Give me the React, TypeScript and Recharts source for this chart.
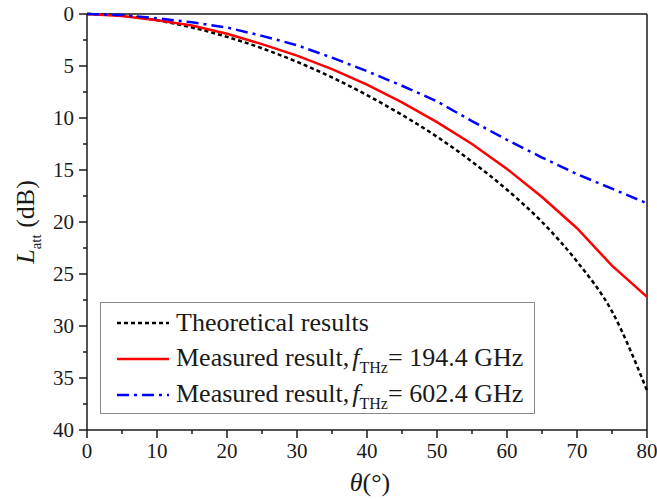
import { LineChart, Line, XAxis, YAxis, ReferenceLine } from 'recharts'

const angles = [0, 5, 10, 15, 20, 25, 30, 35, 40, 45, 50, 55, 60, 65, 70, 75, 80]
const theoretical = [0, 0.15, 0.6, 1.3, 2.2, 3.3, 4.6, 6.1, 7.8, 9.7, 11.8, 14.2, 16.9, 20.0, 23.8, 28.6, 36.2]
const measured194 = [0, 0.2, 0.6, 1.1, 1.9, 2.9, 4.0, 5.3, 6.8, 8.5, 10.4, 12.5, 14.9, 17.6, 20.6, 24.2, 27.2]
const measured602 = [0, 0.1, 0.4, 0.8, 1.3, 2.1, 3.0, 4.2, 5.5, 6.9, 8.4, 10.3, 12.1, 13.8, 15.4, 16.8, 18.2]

const xTicks = [0, 5, 10, 15, 20, 25, 30, 35, 40, 45, 50, 55, 60, 65, 70, 75, 80]
const yTicks = [0, 2.5, 5, 7.5, 10, 12.5, 15, 17.5, 20, 22.5, 25, 27.5, 30, 32.5, 35, 37.5, 40]

const data = angles.map((a, i) => ({
  angle: a,
  theo: theoretical[i],
  m194: measured194[i],
  m602: measured602[i],
}))

const FONT = '"Liberation Serif", "Times New Roman", serif'
const INK = '#1a1a1a'
const serif = { fontFamily: FONT }

function XTick(props: any) {
  const { x, y, payload } = props
  const major = payload.value % 10 === 0
  return (
    <g>
      <line x1={x} y1={y} x2={x} y2={y + (major ? 8 : 4)} stroke={INK} strokeWidth={1.5} />
      {major && (
        <text x={x} y={y + 28} textAnchor="middle" style={serif} fontSize={21} fill={INK}>
          {payload.value}
        </text>
      )}
    </g>
  )
}

function YTick(props: any) {
  const { x, y, payload } = props
  const major = payload.value % 5 === 0
  return (
    <g>
      <line x1={x} y1={y} x2={x - (major ? 8 : 4)} y2={y} stroke={INK} strokeWidth={1.5} />
      {major && (
        <text x={x - 13} y={y + 7} textAnchor="end" style={serif} fontSize={21} fill={INK}>
          {payload.value}
        </text>
      )}
    </g>
  )
}

function Sample({ color, dash }: { color: string; dash?: string }) {
  return (
    <svg width={52} height={10} style={{ marginRight: 7, flex: 'none' }}>
      <line x1={0} y1={5} x2={52} y2={5} stroke={color} strokeWidth={2.5} strokeDasharray={dash} />
    </svg>
  )
}

function Freq({ value }: { value: string }) {
  return (
    <span>
      Measured result,<i style={{ marginLeft: 3 }}>f</i>
      <span style={{ fontSize: 16, position: 'relative', top: 7 }}>THz</span>= {value} GHz
    </span>
  )
}

function ChartLegend() {
  const row = { display: 'flex', alignItems: 'center', height: 36, whiteSpace: 'nowrap' } as const
  return (
    <div
      style={{
        position: 'absolute',
        left: 100,
        top: 302,
        width: 435,
        height: 112,
        border: '1px solid #888',
        background: '#fff',
        padding: '2px 0 0 16px',
        fontFamily: FONT,
        fontSize: 26,
        color: INK,
        lineHeight: '28px',
        boxSizing: 'border-box',
      }}
    >
      <div style={row}>
        <Sample color="#000" dash="4 3" />
        <span>Theoretical results</span>
      </div>
      <div style={row}>
        <Sample color="#ff0000" />
        <Freq value="194.4" />
      </div>
      <div style={row}>
        <Sample color="#0000ff" dash="12 5 3 5" />
        <Freq value="602.4" />
      </div>
    </div>
  )
}

export default function App() {
  return (
    <div style={{ position: 'absolute', left: 0, top: 0, width: 657, height: 499, background: '#fff' }}>
      <LineChart width={657} height={499} data={data} margin={{ top: 14, right: 10, left: 0, bottom: 0 }}>
        <XAxis
          dataKey="angle"
          type="number"
          domain={[0, 80]}
          ticks={xTicks}
          interval={0}
          height={69}
          tickSize={0}
          tickMargin={0}
          tickLine={false}
          tick={<XTick />}
          axisLine={{ stroke: INK, strokeWidth: 1.5 }}
          label={{
            content: () => (
              <text x={370} y={491} textAnchor="middle" style={serif} fontSize={26} fill={INK}>
                <tspan fontStyle="italic">θ</tspan>
                <tspan>(°)</tspan>
              </text>
            ),
          }}
        />
        <YAxis
          type="number"
          reversed
          domain={[0, 40]}
          ticks={yTicks}
          interval={0}
          width={87}
          tickSize={0}
          tickMargin={0}
          tickLine={false}
          tick={<YTick />}
          axisLine={{ stroke: INK, strokeWidth: 1.5 }}
          label={{
            content: () => (
              <text
                x={0}
                y={0}
                transform="translate(34,222) rotate(-90)"
                textAnchor="middle"
                style={serif}
                fontSize={26}
                fill={INK}
              >
                <tspan fontStyle="italic">L</tspan>
                <tspan fontSize={15} dy={7}>att</tspan>
                <tspan dy={-7}> (dB)</tspan>
              </text>
            ),
          }}
        />
        <ReferenceLine y={0} stroke={INK} strokeWidth={1.5} />
        <ReferenceLine x={80} stroke={INK} strokeWidth={1.5} />
        <Line
          dataKey="theo"
          stroke="#000"
          strokeWidth={2.5}
          strokeDasharray="4 3"
          dot={false}
          type="monotone"
          isAnimationActive={false}
        />
        <Line
          dataKey="m194"
          stroke="#ff0000"
          strokeWidth={2.5}
          dot={false}
          type="linear"
          isAnimationActive={false}
        />
        <Line
          dataKey="m602"
          stroke="#0000ff"
          strokeWidth={2.5}
          strokeDasharray="12 5 3 5"
          dot={false}
          type="linear"
          isAnimationActive={false}
        />
      </LineChart>
      <ChartLegend />
    </div>
  )
}
